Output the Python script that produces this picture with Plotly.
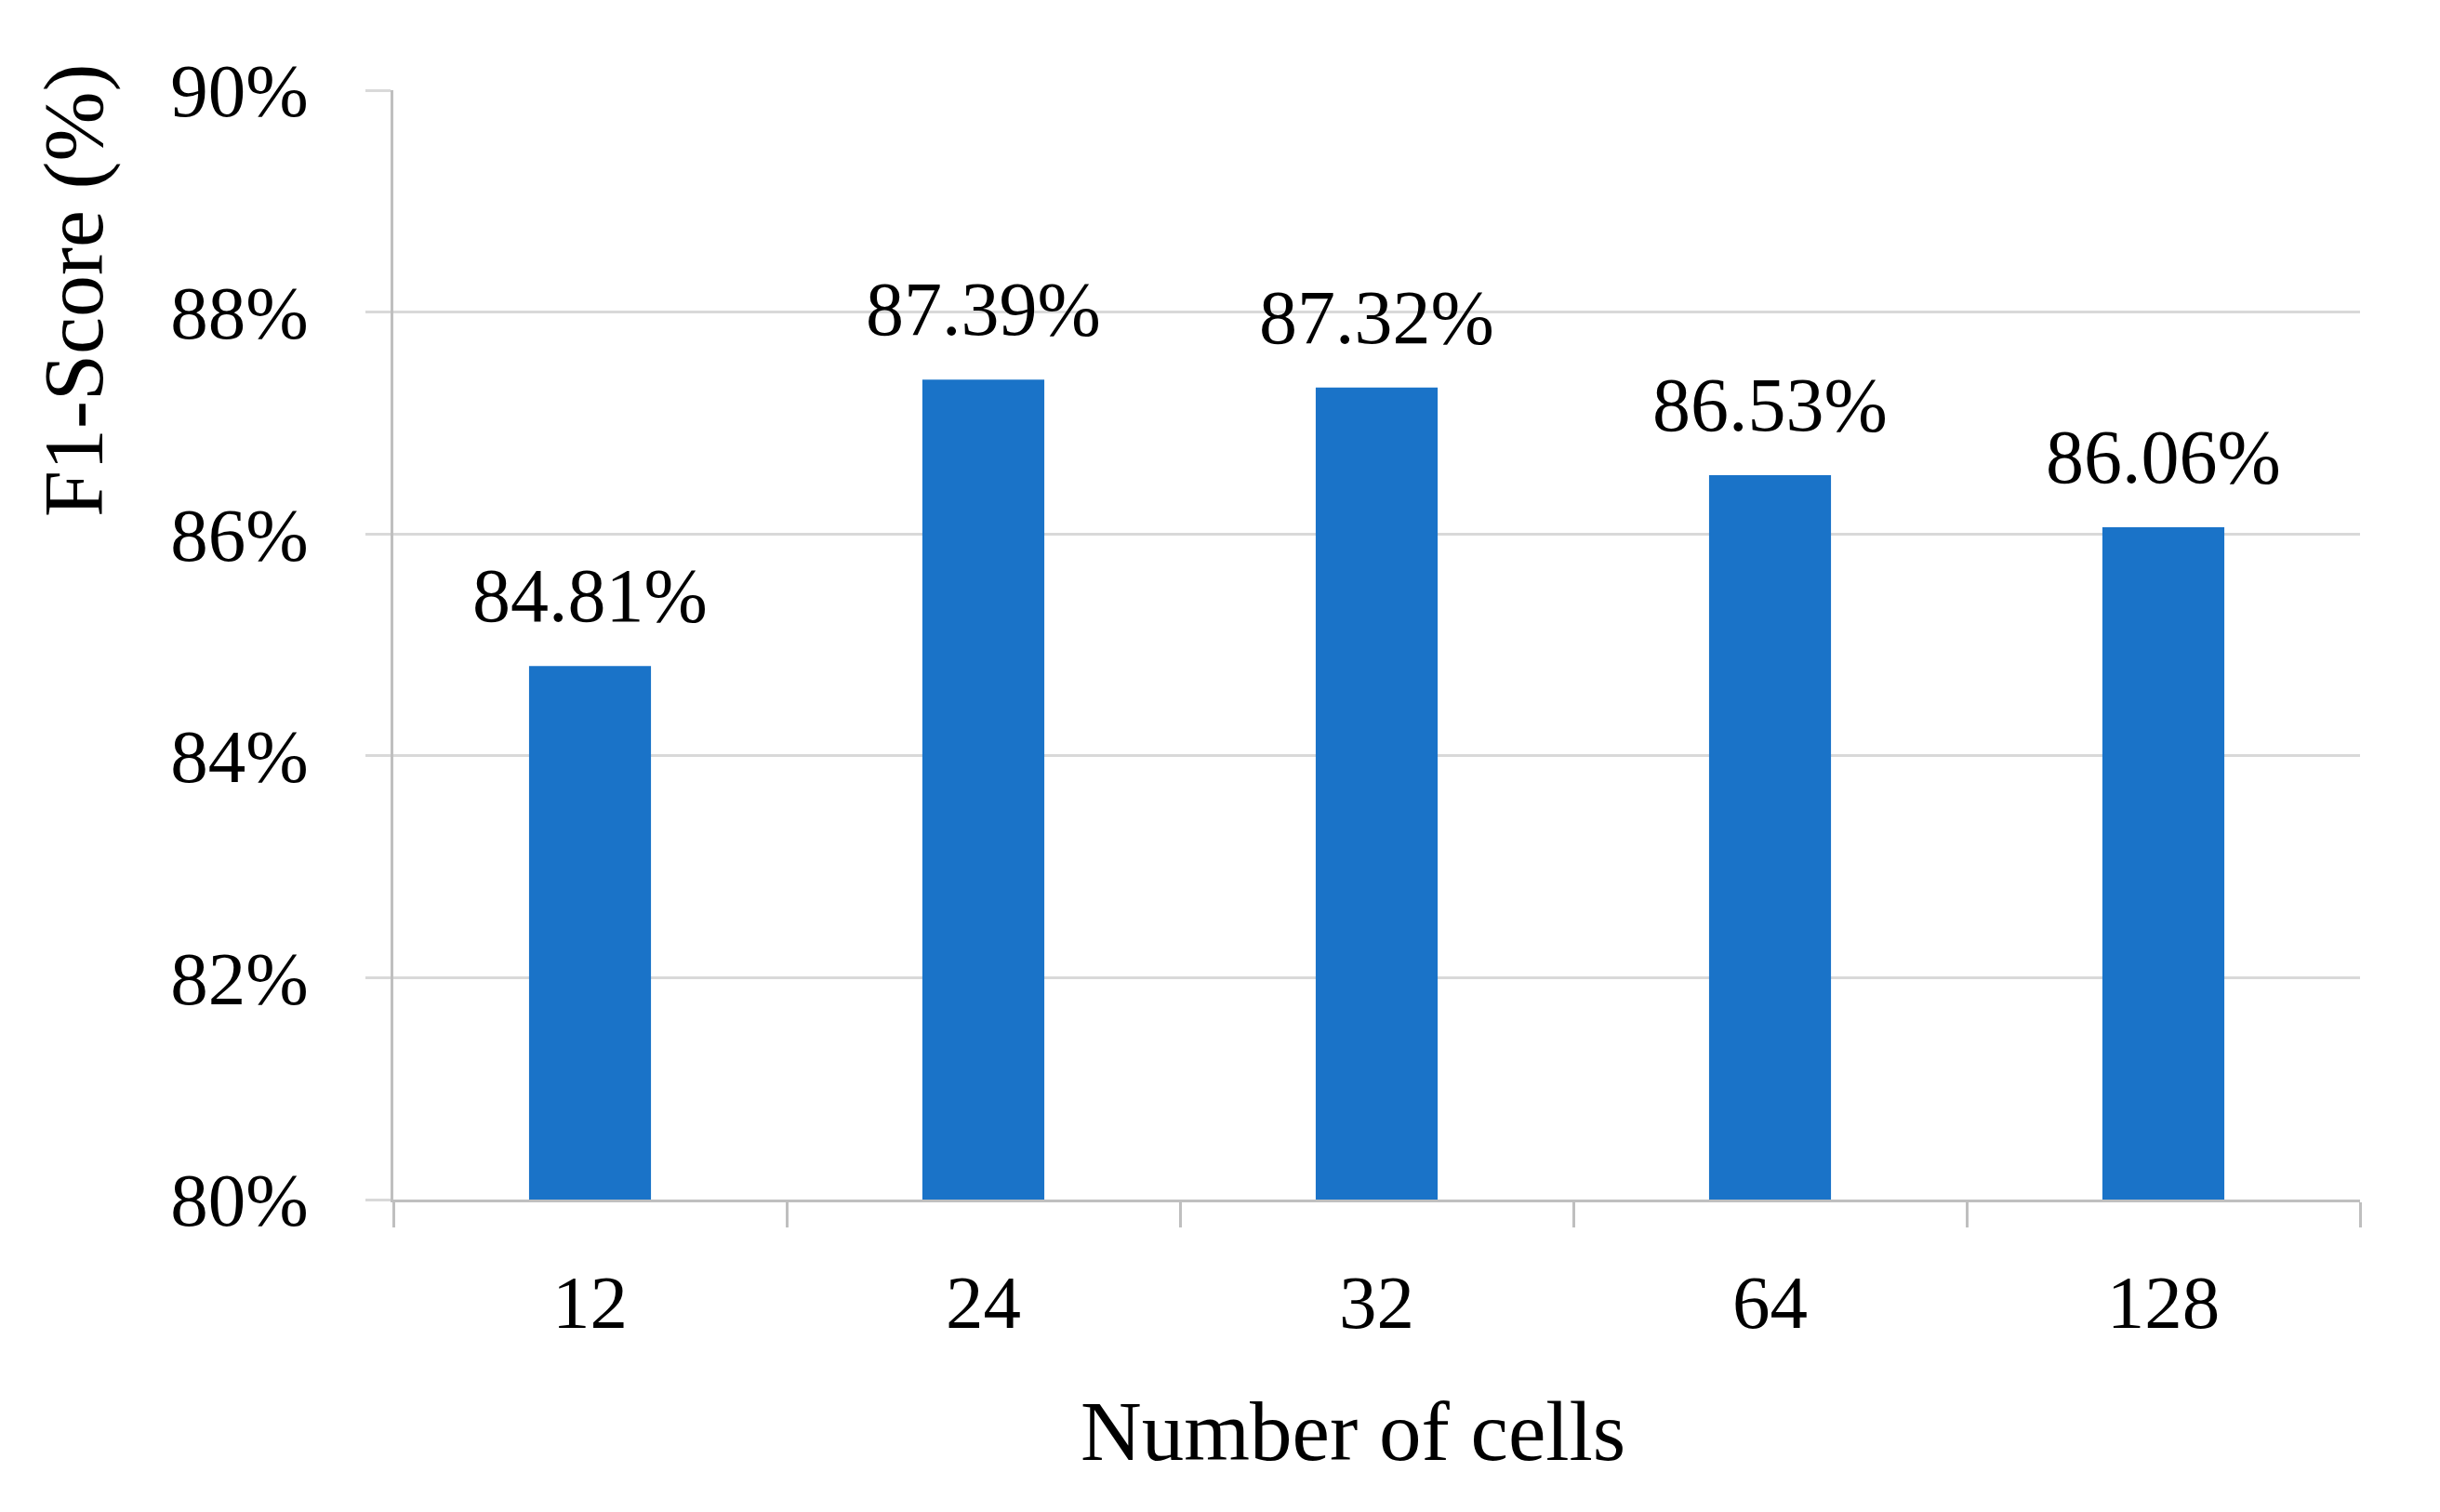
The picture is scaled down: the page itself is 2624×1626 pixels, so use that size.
import plotly.graph_objects as go

categories = ["12", "24", "32", "64", "128"]
f1_scores = [84.81, 87.39, 87.32, 86.53, 86.06]
value_labels = ["84.81%", "87.39%", "87.32%", "86.53%", "86.06%"]
y_ticks = [80, 82, 84, 86, 88, 90]
y_tick_labels = ["80%", "82%", "84%", "86%", "88%", "90%"]

FONT = "Liberation Serif"
GRID = "#D9D9D9"
AXIS = "#BFBFBF"

W, H = 2624, 1626
ML, MR, MT, MB = 415, 94, 89, 344

fig = go.Figure()
fig.add_trace(go.Bar(
    x=categories,
    y=f1_scores,
    marker=dict(color="#1A73C8", line=dict(width=0)),
    width=0.31,
    showlegend=False,
))

for i, (v, t) in enumerate(zip(f1_scores, value_labels)):
    fig.add_annotation(x=i, y=v, text=t, showarrow=False, yanchor="bottom",
                       yshift=28, font=dict(family=FONT, size=82, color="#000000"))

# axis titles placed like the reference
plot_w = W - ML - MR
plot_h = H - MT - MB
fig.add_annotation(text="F1-Score (%)", xref="paper", yref="paper",
                   x=(72 - ML) / plot_w, y=(H - MB - 305) / plot_h,
                   xanchor="center", yanchor="middle", textangle=-90, showarrow=False,
                   font=dict(family=FONT, size=90, color="#000000"))
fig.add_annotation(text="Number of cells", xref="paper", yref="paper",
                   x=(1447 - ML) / plot_w, y=-(1531 - (H - MB)) / plot_h,
                   xanchor="center", yanchor="middle", showarrow=False,
                   font=dict(family=FONT, size=91, color="#000000"))

fig.update_layout(
    width=W, height=H,
    margin=dict(l=ML, r=MR, t=MT, b=MB, pad=0),
    paper_bgcolor="white", plot_bgcolor="white",
    font=dict(family=FONT, color="#000000"),
)

fig.update_xaxes(
    type="category",
    range=[-0.5, len(categories) - 0.5],
    showgrid=False,
    showline=True, linecolor=AXIS, linewidth=3,
    ticks="outside", tickson="boundaries", ticklen=27, tickwidth=3, tickcolor=AXIS,
    tickfont=dict(family=FONT, size=81, color="#000000"),
    tickangle=0,
    ticklabelstandoff=38,
)

fig.update_yaxes(
    range=[80, 90],
    tickvals=y_ticks, ticktext=y_tick_labels,
    showgrid=True, gridcolor=GRID, gridwidth=3,
    showline=True, linecolor=AXIS, linewidth=3,
    ticks="outside", ticklen=27, tickwidth=3, tickcolor=GRID,
    tickfont=dict(family=FONT, size=81, color="#000000"),
    ticklabelstandoff=45,
    zeroline=False,
)

fig.write_html("out.html")
